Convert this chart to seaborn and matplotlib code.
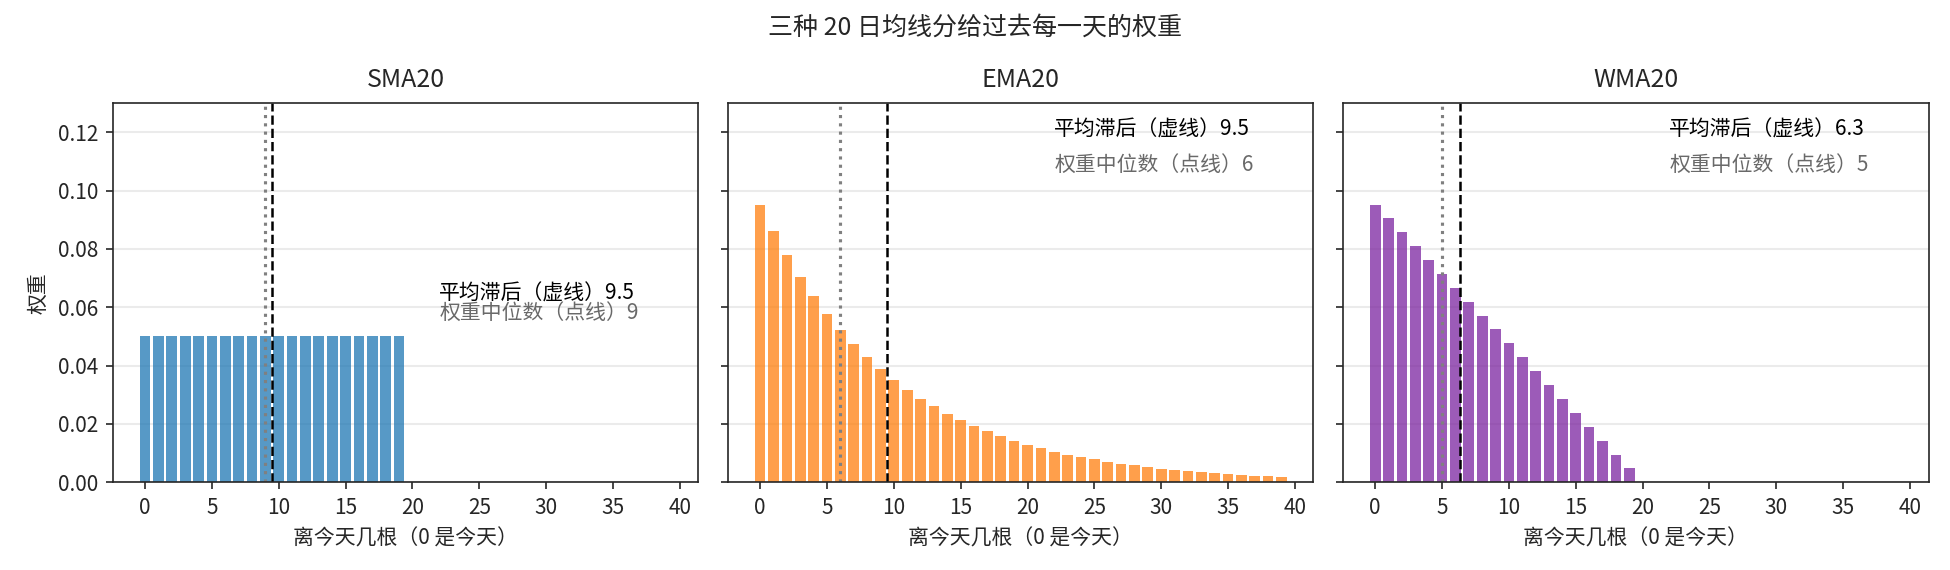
import matplotlib
matplotlib.use("Agg")
import matplotlib.pyplot as plt
import seaborn as sns

sns.set_theme(style="ticks", rc={
    "axes.linewidth": 0.8, "axes.edgecolor": "0.15",
    "xtick.major.size": 3.5, "ytick.major.size": 3.5,
    "xtick.major.width": 0.8, "ytick.major.width": 0.8,
    "font.size": 10, "axes.titlesize": 12, "axes.labelsize": 10,
    "xtick.labelsize": 10, "ytick.labelsize": 10,
})
plt.rcParams["font.family"] = ["Noto Sans CJK SC", "DejaVu Sans"]

# 三种均线的权重
names = ["SMA20", "EMA20", "WMA20"]
colors = ["#1f77b4", "#ff7f0e", "#7b24a0"]

sma_weights = [0.05, 0.05, 0.05, 0.05, 0.05, 0.05, 0.05, 0.05, 0.05, 0.05,
               0.05, 0.05, 0.05, 0.05, 0.05, 0.05, 0.05, 0.05, 0.05, 0.05]
ema_weights = [0.0952, 0.0862, 0.0780, 0.0705, 0.0638, 0.0578, 0.0523, 0.0473,
               0.0428, 0.0387, 0.0350, 0.0317, 0.0287, 0.0260, 0.0235, 0.0212,
               0.0192, 0.0174, 0.0157, 0.0142, 0.0129, 0.0117, 0.0105, 0.0095,
               0.0086, 0.0078, 0.0071, 0.0064, 0.0058, 0.0052, 0.0047, 0.0043,
               0.0039, 0.0035, 0.0032, 0.0029, 0.0026, 0.0023, 0.0021, 0.0019]
wma_weights = [0.0952, 0.0905, 0.0857, 0.0810, 0.0762, 0.0714, 0.0667, 0.0619,
               0.0571, 0.0524, 0.0476, 0.0429, 0.0381, 0.0333, 0.0286, 0.0238,
               0.0190, 0.0143, 0.0095, 0.0048]

mean_lag = [9.5, 9.5, 6.33]
median_lag = [9, 6, 5]

fig, axes = plt.subplots(1, 3, figsize=(13, 3.8), dpi=150, sharex=True, sharey=True)
fig.subplots_adjust(left=0.058, right=0.989, top=0.819, bottom=0.154, wspace=0.051)

for i, (ax, weights) in enumerate(zip(axes, [sma_weights, ema_weights, wma_weights])):
    lags = list(range(len(weights)))
    sns.barplot(x=lags, y=weights, native_scale=True, color=colors[i], alpha=0.75,
                saturation=1, linewidth=0, errorbar=None, ax=ax)
    ax.axvline(mean_lag[i], color="black", ls="--", lw=1.2)
    ax.axvline(median_lag[i], color="gray", ls=":", lw=1.5)
    top = max(weights)
    ax.text(22, top * 1.25, f"平均滞后（虚线）{mean_lag[i]:.1f}", fontsize=10, color="black")
    ax.text(22, top * 1.12, f"权重中位数（点线）{median_lag[i]}", fontsize=10, color="dimgray")
    ax.set_title(names[i], pad=8)
    ax.set_xlabel("离今天几根（0 是今天）")
    ax.set_ylabel("权重" if i == 0 else "")
    ax.yaxis.grid(True, color="0.92", lw=1.0)
    ax.set_axisbelow(True)
    ax.tick_params(labelleft=(i == 0))

axes[0].set_xlim(-2.39, 41.39)
axes[0].set_xticks(range(0, 41, 5))
axes[0].set_ylim(0, 0.13)
axes[0].set_yticks([0, 0.02, 0.04, 0.06, 0.08, 0.10, 0.12])
axes[0].set_yticklabels(["0.00", "0.02", "0.04", "0.06", "0.08", "0.10", "0.12"])

fig.suptitle("三种 20 日均线分给过去每一天的权重", fontsize=12, y=0.975)
fig.savefig("out.png", dpi=150)
